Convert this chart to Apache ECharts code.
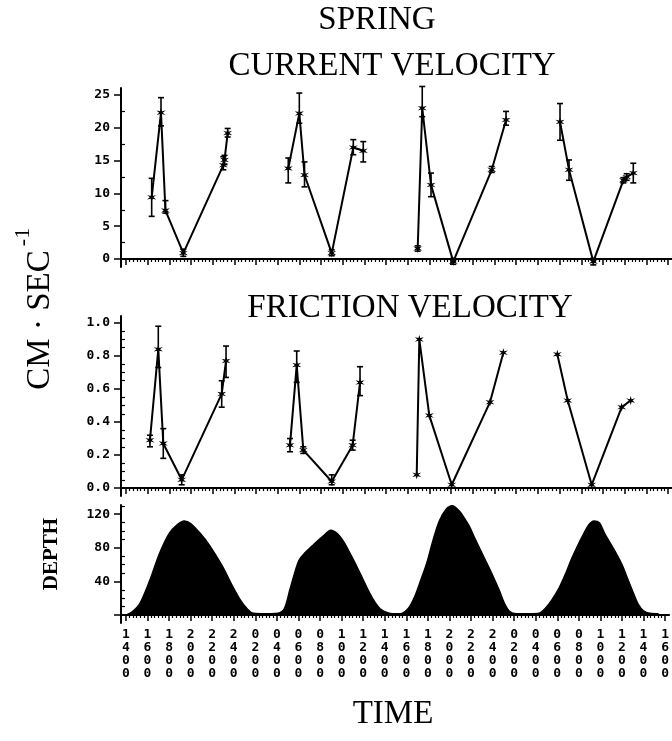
<!DOCTYPE html>
<html>
<head>
<meta charset="utf-8">
<script src="https://cdn.jsdelivr.net/npm/echarts@6/dist/echarts.min.js"></script>
<style>
  html, body { margin: 0; padding: 0; background: #fff; }
  #chart { width: 672px; height: 741px; }
</style>
</head>
<body>
<div id="chart"></div>
<script>
// time axis (hours from midnight of day 1), labelled every 2 h
const tickHours = [14, 16, 18, 20, 22, 24, 26, 28, 30, 32, 34, 36, 38, 40, 42, 44, 46, 48, 50, 52, 54, 56, 58, 60, 62, 64]
const timeLabels = ['1400', '1600', '1800', '2000', '2200', '2400', '0200', '0400', '0600', '0800', '1000', '1200', '1400',
  '1600', '1800', '2000', '2200', '2400', '0200', '0400', '0600', '0800', '1000', '1200', '1400', '1600']

// current velocity, one array per tidal cycle
const curTime = [
  [16.37, 17.23, 17.64, 19.29, 22.98, 23.09, 23.38],
  [28.97, 29.99, 30.47, 32.98, 34.97, 35.89],
  [40.91, 41.33, 42.14, 44.19, 47.74, 49.06],
  [54.04, 54.87, 57.11, 59.88, 60.19, 60.8]
]
const curVal = [
  [9.4, 22.3, 7.4, 0.9, 14.3, 15.1, 19.2],
  [13.8, 22.2, 12.8, 0.9, 17.0, 16.5],
  [1.6, 23.0, 11.3, -0.4, 13.6, 21.2],
  [20.9, 13.6, -0.4, 12.0, 12.5, 13.1]
]
const curLo = [
  [6.5, 20.3, 7.0, 0.4, 13.6, 14.4, 18.6],
  [11.6, 20.7, 11.0, 0.5, 15.9, 14.8],
  [1.2, 21.7, 9.5, -0.8, 13.2, 20.4],
  [18.1, 12.0, -0.9, 11.6, 12.0, 11.6]
]
const curHi = [
  [12.3, 24.6, 8.9, 1.5, 15.6, 15.8, 19.9],
  [15.4, 25.3, 14.8, 1.4, 18.2, 17.9],
  [2.0, 26.3, 13.1, 0.1, 14.1, 22.5],
  [23.7, 15.1, 0.1, 12.4, 13.0, 14.6]
]

// friction velocity
const fricTime = [
  [16.21, 16.98, 17.44, 19.14, 22.83, 23.23],
  [29.13, 29.75, 30.36, 32.98, 34.91, 35.59],
  [40.82, 41.06, 41.98, 44.05, 47.58, 48.81],
  [53.79, 54.75, 56.96, 59.73, 60.56]
]
const fricVal = [
  [0.29, 0.84, 0.27, 0.05, 0.57, 0.77],
  [0.26, 0.745, 0.23, 0.04, 0.26, 0.64],
  [0.08, 0.90, 0.44, 0.02, 0.52, 0.82],
  [0.81, 0.53, 0.02, 0.49, 0.53]
]
const fricLo = [
  [0.25, 0.73, 0.18, 0.02, 0.49, 0.67],
  [0.22, 0.64, 0.21, 0.02, 0.23, 0.56]
]
const fricHi = [
  [0.32, 0.98, 0.36, 0.08, 0.65, 0.86],
  [0.30, 0.83, 0.25, 0.08, 0.29, 0.735]
]

// water depth
const depthTime = [14.05, 14.6, 15.3, 16.2, 17.1, 18.0, 18.8, 19.4, 20.0, 20.9, 21.75, 22.95, 23.9, 24.6, 25.2, 25.8, 26.5, 27.5,
  28.1, 28.7, 29.2, 29.6, 30.05, 30.6, 31.25, 32.2, 33.0, 33.6, 34.2, 34.76, 35.4, 35.96, 36.6, 37.15, 37.6, 38.2, 38.8, 39.2,
  39.6, 40.2, 40.75, 41.3, 41.9, 42.5, 43.06, 43.7, 44.26, 44.9, 45.4, 45.87, 46.4, 47.0, 47.8, 48.6, 49.1, 49.6, 50.2, 51.5,
  52.3, 52.9, 53.5, 54.2, 54.8, 55.3, 55.8, 56.3, 56.9, 57.4, 57.9, 58.4, 59.4, 60.0, 60.5, 61.0, 61.5, 62.0, 62.6, 63.4]
const depthVal = [0, 4, 14, 41, 73, 97, 108, 112, 109, 97, 83, 58, 34, 18, 8, 2, 1.5, 1.5,
  2, 8, 30, 48, 65, 74, 82, 93, 101, 97, 87, 74, 58, 43, 26, 14, 7, 3, 1.5, 1.5,
  2, 8, 21, 40, 62, 90, 112, 126, 130, 124, 115, 105, 90, 74, 53, 30, 14, 4, 1.5, 1.5,
  2, 8, 18, 33, 50, 66, 80, 93, 107, 112, 110, 97, 75, 60, 44, 28, 13, 5, 2, 1.5]

const zip = (a, b) => a.map((v, i) => [v, b[i]])
const zip3 = (a, b, c) => a.map((v, i) => [v, b[i], c[i]])
const range = (from, to, step, skip) => {
  const out = []
  for (let v = from; v <= to + 1e-9; v += step) {
    const r = Math.round(v * 1000) / 1000
    if (!skip || Math.abs(r / skip - Math.round(r / skip)) > 1e-6) out.push(r)
  }
  return out
}

const star = 'path://M10 0L11.75 6.97L18.66 5L13.5 10L18.66 15L11.75 13.03L10 20L8.25 13.03L1.34 15L6.5 10L1.34 5L8.25 6.97Z'
const labelFont = { fontFamily: 'DejaVu Sans Mono', fontWeight: 'bold', fontSize: 13, color: '#000' }
const serif = 'Liberation Serif'

function xAxes(grid, withLabels) {
  const base = { type: 'value', gridIndex: grid, position: 'bottom', min: 13.54, max: 64.37, splitLine: { show: false } }
  return [{
    ...base,
    axisLine: { show: true, lineStyle: { color: '#000', width: 2 } },
    axisTick: { show: true, customValues: tickHours, length: 6, lineStyle: { color: '#000', width: 1.5 } },
    axisLabel: {
      show: withLabels, customValues: tickHours, margin: 5, lineHeight: 13, ...labelFont,
      formatter: v => timeLabels[tickHours.indexOf(v)].split('').join('\n')
    }
  }, {
    ...base,
    axisLine: { show: false },
    axisTick: { show: true, customValues: range(14, 64, 1 / 3, 2), length: 3, lineStyle: { color: '#000', width: 1.2 } },
    axisLabel: { show: false }
  }]
}

function yAxes(grid, min, max, majors, labels, minors, fmt) {
  const base = { type: 'value', gridIndex: grid, position: 'left', min: min, max: max, splitLine: { show: false } }
  return [{
    ...base,
    axisLine: { show: true, lineStyle: { color: '#000', width: 2 } },
    axisTick: { show: true, customValues: majors, length: 7, lineStyle: { color: '#000', width: 1.5 } },
    axisLabel: { customValues: labels, margin: 11, ...labelFont, formatter: fmt }
  }, {
    ...base,
    axisLine: { show: false },
    axisTick: { show: true, inside: true, customValues: minors, length: 4, lineStyle: { color: '#000', width: 1.2 } },
    axisLabel: { show: false }
  }]
}

function renderErr(params, api) {
  const x = api.value(0)
  const lo = api.coord([x, api.value(1)])
  const hi = api.coord([x, api.value(2)])
  const w = 3
  const st = { stroke: '#000', lineWidth: 1.6 }
  return {
    type: 'group',
    children: [
      { type: 'line', shape: { x1: lo[0], y1: lo[1], x2: hi[0], y2: hi[1] }, style: st },
      { type: 'line', shape: { x1: lo[0] - w, y1: lo[1], x2: lo[0] + w, y2: lo[1] }, style: st },
      { type: 'line', shape: { x1: hi[0] - w, y1: hi[1], x2: hi[0] + w, y2: hi[1] }, style: st }
    ]
  }
}

const series = []
function addPanel(axis, times, vals, los, his) {
  times.forEach((t, i) => {
    series.push({
      type: 'line', xAxisIndex: axis, yAxisIndex: axis,
      data: zip(t, vals[i]),
      symbol: star, symbolSize: 9,
      itemStyle: { color: '#000' },
      lineStyle: { color: '#000', width: 2 }
    })
    if (los[i]) {
      series.push({
        type: 'custom', xAxisIndex: axis, yAxisIndex: axis,
        renderItem: renderErr,
        encode: { x: 0, y: [1, 2] },
        data: zip3(t, los[i], his[i])
      })
    }
  })
}
addPanel(0, curTime, curVal, curLo, curHi)
addPanel(2, fricTime, fricVal, fricLo, fricHi)
series.push({
  type: 'line', xAxisIndex: 4, yAxisIndex: 4,
  data: zip(depthTime, depthVal),
  smooth: 0.3, symbol: 'none',
  lineStyle: { color: '#000', width: 1.5 },
  areaStyle: { color: '#000', opacity: 1 }
})

const chart = echarts.init(document.getElementById('chart'))
chart.setOption({
  animation: false,
  backgroundColor: '#fff',
  grid: [
    { left: 121, right: 0, top: 88, height: 179 },
    { left: 121, right: 0, top: 316, height: 180 },
    { left: 121, right: 0, top: 505, height: 118 }
  ],
  xAxis: [...xAxes(0, false), ...xAxes(1, false), ...xAxes(2, true)],
  yAxis: [
    ...yAxes(0, -1.22, 26.07, [0, 5, 10, 15, 20, 25], [0, 5, 10, 15, 20, 25], range(2.5, 22.5, 5), v => String(v)),
    ...yAxes(1, -0.048, 1.042, [0, 0.2, 0.4, 0.6, 0.8, 1.0], [0, 0.2, 0.4, 0.6, 0.8, 1.0], range(0.05, 0.95, 0.05, 0.2), v => v.toFixed(1)),
    ...yAxes(2, -9.5, 131, [0, 40, 80, 120], [40, 80, 120], range(10, 130, 10, 40), v => String(v))
  ],
  graphic: [
    { type: 'text', x: 377, y: 20, style: { text: 'SPRING', font: '33px "' + serif + '"', fill: '#000', textAlign: 'center', textVerticalAlign: 'middle' } },
    { type: 'text', x: 392, y: 66, style: { text: 'CURRENT VELOCITY', font: '33px "' + serif + '"', fill: '#000', textAlign: 'center', textVerticalAlign: 'middle' } },
    { type: 'text', x: 410, y: 308, style: { text: 'FRICTION VELOCITY', font: '33px "' + serif + '"', fill: '#000', textAlign: 'center', textVerticalAlign: 'middle' } },
    { type: 'text', x: 393, y: 714, style: { text: 'TIME', font: '33px "' + serif + '"', fill: '#000', textAlign: 'center', textVerticalAlign: 'middle' } },
    { type: 'text', x: 40, y: 320, rotation: Math.PI / 2, style: { text: 'CM · SEC', font: '33px "' + serif + '"', fill: '#000', textAlign: 'center', textVerticalAlign: 'middle' } },
    { type: 'text', x: 23, y: 237, rotation: Math.PI / 2, style: { text: '-1', font: '22px "' + serif + '"', fill: '#000', textAlign: 'center', textVerticalAlign: 'middle' } },
    { type: 'text', x: 52, y: 554, rotation: Math.PI / 2, style: { text: 'DEPTH', font: 'bold 21px "' + serif + '"', fill: '#000', textAlign: 'center', textVerticalAlign: 'middle' } }
  ],
  series: series
})
</script>
</body>
</html>
